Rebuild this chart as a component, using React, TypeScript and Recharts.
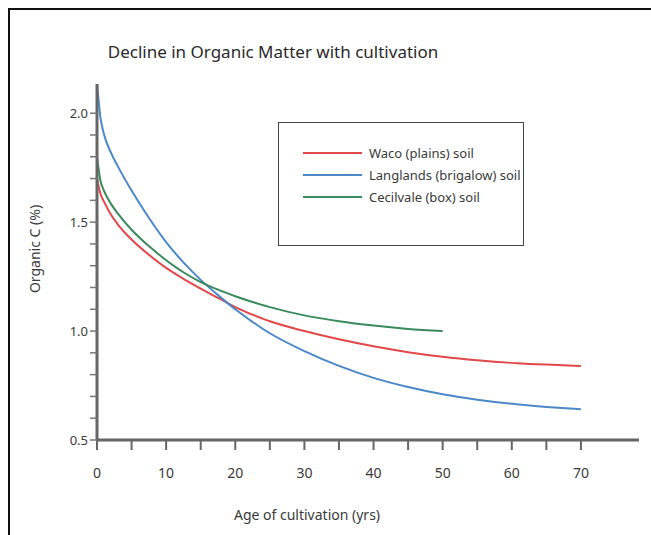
import React from 'react'
import { LineChart, Line, XAxis, YAxis } from 'recharts'

// years of cultivation at which the curves were read
const ages = [0, 0.5, 1, 2, 3, 5, 7.5, 10, 12.5, 15, 17.5, 20, 25, 30, 35, 40, 45, 50, 55, 60, 65, 70]

// organic C (%) per soil
const waco = [1.70, 1.63, 1.595, 1.535, 1.49, 1.42, 1.35, 1.29, 1.24, 1.195, 1.152, 1.11, 1.045, 1.0, 0.962, 0.93, 0.903, 0.882, 0.866, 0.854, 0.846, 0.84]
const langlands = [2.14, 1.98, 1.905, 1.82, 1.757, 1.645, 1.52, 1.408, 1.315, 1.235, 1.165, 1.10, 0.99, 0.908, 0.84, 0.785, 0.743, 0.71, 0.685, 0.666, 0.652, 0.641]
const cecilvale = [1.80, 1.69, 1.645, 1.585, 1.54, 1.465, 1.39, 1.325, 1.27, 1.225, 1.19, 1.16, 1.11, 1.072, 1.045, 1.025, 1.01, 1.0]

const xTicks = [0, 5, 10, 15, 20, 25, 30, 35, 40, 45, 50, 55, 60, 65, 70]
const yTicks = [0.5, 0.6, 0.7, 0.8, 0.9, 1.0, 1.1, 1.2, 1.3, 1.4, 1.5, 1.6, 1.7, 1.8, 1.9, 2.0]

const series = [
  { key: 'waco', name: 'Waco (plains) soil', color: '#e2484a', values: waco },
  { key: 'langlands', name: 'Langlands (brigalow) soil', color: '#4c88c8', values: langlands },
  { key: 'cecilvale', name: 'Cecilvale (box) soil', color: '#3a8a5c', values: cecilvale },
]

const FONT = '"Noto Sans", sans-serif'
const TEXT = '#3a3a3a'

const toPoints = (values: number[]) => values.map((v, i) => ({ x: ages[i], y: v }))

const LegendBox = () => (
  <div
    style={{
      position: 'absolute',
      left: 268,
      top: 112,
      width: 246,
      height: 124,
      border: '1.5px solid #444',
      background: '#fff',
      boxSizing: 'border-box',
      paddingTop: 19,
      paddingLeft: 24,
      fontFamily: FONT,
      fontSize: 13,
      color: TEXT,
    }}
  >
    {series.map(s => (
      <div key={s.key} style={{ display: 'flex', alignItems: 'center', height: 22 }}>
        <span style={{ display: 'inline-block', width: 59, height: 2, background: s.color, marginRight: 7 }} />
        <span>{s.name}</span>
      </div>
    ))}
  </div>
)

export default function App() {
  return (
    <div
      style={{
        position: 'fixed',
        left: 8,
        top: 8,
        width: 641,
        height: 525,
        borderTop: '2px solid #111',
        borderLeft: '2px solid #111',
        background: '#fff',
        overflow: 'hidden',
      }}
    >
      <div
        style={{
          position: 'absolute',
          left: 0,
          width: 526,
          top: 30,
          textAlign: 'center',
          fontFamily: FONT,
          fontSize: 17,
          color: '#2a2a2a',
        }}
      >
        Decline in Organic Matter with cultivation
      </div>
      <LineChart width={641} height={525} margin={{ top: 74, right: 12, left: 0, bottom: 0 }}>
        <XAxis
          type="number"
          dataKey="x"
          domain={[0, 78.4]}
          ticks={xTicks}
          allowDataOverflow
          tickFormatter={(v: number) => (v % 10 === 0 ? String(v) : '')}
          height={95}
          tickSize={10}
          tickMargin={18}
          axisLine={{ stroke: '#666', strokeWidth: 3 }}
          tickLine={{ stroke: '#666', strokeWidth: 2 }}
          tick={{ fill: TEXT, fontSize: 14, fontFamily: FONT }}
          label={{ value: 'Age of cultivation (yrs)', position: 'insideBottom', offset: 15, dx: -61, fill: TEXT, fontSize: 14, fontFamily: FONT }}
        />
        <YAxis
          type="number"
          dataKey="y"
          domain={[0.5, 2.134]}
          ticks={yTicks}
          allowDataOverflow
          interval={0}
          width={87}
          tickSize={7}
          tickMargin={2}
          tickFormatter={(v: number) => (Math.round(v * 10) % 5 === 0 ? v.toFixed(1) : '')}
          axisLine={{ stroke: '#666', strokeWidth: 3 }}
          tickLine={{ stroke: '#777', strokeWidth: 1.5 }}
          tick={{ fill: TEXT, fontSize: 13, fontFamily: FONT }}
          label={{ value: 'Organic C (%)', angle: -90, position: 'insideLeft', offset: 25, dy: -13, fill: TEXT, fontSize: 14, fontFamily: FONT, style: { textAnchor: 'middle' } }}
        />
        {series.map(s => (
          <Line
            key={s.key}
            data={toPoints(s.values)}
            dataKey="y"
            name={s.name}
            type="monotone"
            stroke={s.color}
            strokeWidth={2}
            dot={false}
            activeDot={false}
            isAnimationActive={false}
          />
        ))}
      </LineChart>
      <LegendBox />
    </div>
  )
}
